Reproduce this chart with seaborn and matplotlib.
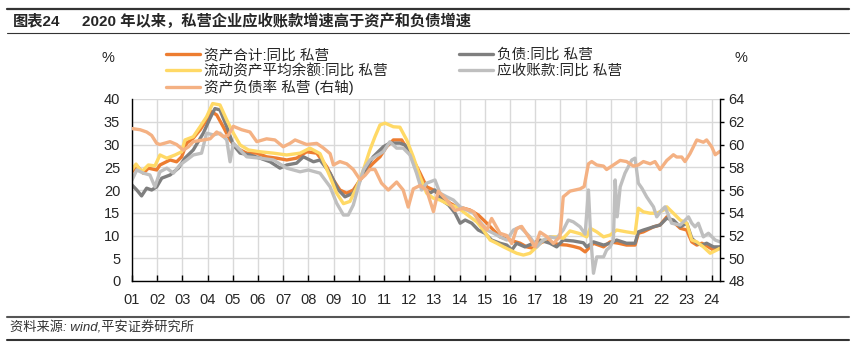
import matplotlib.pyplot as plt
import seaborn as sns

# values (x = year as decimal, monthly-ish points)
x_labels = ['%02d' % i for i in range(1, 25)]

assets_t = [2001.0, 2001.19, 2001.45, 2001.65, 2001.98, 2002.11, 2002.51, 2002.77, 2002.97, 2003.17, 2003.43, 2003.7,
            2003.96, 2004.16, 2004.36, 2004.62, 2004.89, 2005.15, 2005.55, 2005.95, 2006.34, 2006.74, 2007.14, 2007.53,
            2007.93, 2008.33, 2008.73, 2008.99, 2009.25, 2009.52, 2009.78, 2010.05, 2010.31, 2010.57, 2010.84, 2011.1,
            2011.37, 2011.7, 2011.9, 2012.16, 2012.43, 2012.69, 2012.96, 2013.22, 2013.62, 2013.88, 2014.15, 2014.41,
            2014.74, 2015.08, 2015.34, 2015.6, 2016.0, 2016.4, 2016.66, 2016.92, 2017.19, 2017.46, 2017.72, 2017.98,
            2018.25, 2018.51, 2018.78, 2018.98, 2019.31, 2019.71, 2019.97, 2020.3, 2020.62, 2020.96, 2021.09, 2021.29,
            2021.69, 2021.95, 2022.22, 2022.48, 2022.75, 2023.01, 2023.21, 2023.41, 2023.61, 2023.87, 2024.07, 2024.33]
assets_v = [24.0, 25.3, 23.7, 24.8, 24.4, 25.5, 26.6, 26.2, 27.3, 30.3, 31.4, 33.2,
            35.4, 37.2, 36.5, 33.9, 31.0, 29.2, 28.1, 28.1, 27.3, 27.0, 26.6, 27.0,
            28.4, 28.1, 25.1, 22.2, 20.0, 19.3, 20.0, 22.2, 24.4, 25.9, 27.3, 29.5,
            31.0, 31.0, 29.2, 26.6, 23.7, 20.7, 20.0, 18.9, 17.1, 16.3, 16.0, 15.6,
            14.5, 12.7, 11.2, 9.7, 9.0, 8.3, 7.5, 7.2, 8.3, 9.0, 8.3, 8.0,
            7.9, 7.6, 7.2, 6.4, 8.3, 7.5, 8.6, 8.3, 7.9, 7.9, 10.5, 10.8,
            11.9, 12.3, 14.1, 13.0, 11.6, 11.2, 8.6, 7.9, 8.3, 7.5, 6.8, 7.2]

liab_t = [2001.0, 2001.19, 2001.38, 2001.58, 2001.78, 2001.98, 2002.18, 2002.51, 2002.84, 2003.1, 2003.43, 2003.83,
          2004.1, 2004.29, 2004.49, 2004.76, 2005.02, 2005.29, 2005.68, 2006.08, 2006.48, 2006.87, 2007.14, 2007.53,
          2007.8, 2008.2, 2008.46, 2008.86, 2009.19, 2009.45, 2009.78, 2010.05, 2010.31, 2010.57, 2010.97, 2011.23,
          2011.63, 2011.83, 2012.03, 2012.29, 2012.56, 2012.82, 2013.02, 2013.29, 2013.56, 2013.82, 2014.02, 2014.22,
          2014.48, 2014.74, 2015.0, 2015.27, 2015.6, 2015.87, 2016.07, 2016.26, 2016.59, 2016.92, 2017.19, 2017.58,
          2017.85, 2018.11, 2018.51, 2018.91, 2019.04, 2019.31, 2019.71, 2019.97, 2020.23, 2020.62, 2020.96, 2021.09,
          2021.29, 2021.69, 2021.95, 2022.22, 2022.48, 2022.75, 2023.01, 2023.21, 2023.41, 2023.61, 2023.8, 2024.07,
          2024.33]
liab_v = [21.1, 20.0, 18.7, 20.4, 20.0, 20.7, 22.6, 23.3, 24.8, 27.0, 28.8, 32.5,
          35.8, 37.9, 37.6, 33.9, 29.9, 28.1, 27.7, 27.0, 26.2, 24.8, 25.5, 25.9,
          27.3, 26.2, 26.6, 23.7, 20.0, 18.5, 19.3, 22.2, 25.1, 27.3, 29.5, 30.3,
          30.3, 29.9, 28.1, 24.4, 20.7, 19.3, 20.0, 17.8, 16.7, 14.9, 12.7, 13.4,
          12.7, 11.2, 10.5, 9.0, 8.3, 7.9, 6.8, 8.3, 7.5, 8.3, 9.0, 8.3,
          7.5, 9.0, 8.8, 8.4, 7.5, 8.6, 7.9, 8.3, 9.0, 8.3, 8.3, 10.8,
          11.2, 11.9, 12.3, 13.8, 13.4, 11.9, 12.7, 9.4, 8.3, 7.9, 8.3, 7.5,
          7.5]

curr_t = [2001.0, 2001.16, 2001.38, 2001.65, 2001.91, 2002.11, 2002.38, 2002.71, 2002.97, 2003.1, 2003.43, 2003.7,
          2003.96, 2004.2, 2004.49, 2004.76, 2005.02, 2005.29, 2005.62, 2006.08, 2006.61, 2007.14, 2007.67, 2008.06,
          2008.46, 2008.86, 2009.12, 2009.39, 2009.65, 2009.92, 2010.18, 2010.44, 2010.64, 2010.84, 2011.04, 2011.37,
          2011.63, 2011.9, 2012.16, 2012.43, 2012.69, 2012.96, 2013.22, 2013.62, 2013.88, 2014.15, 2014.41, 2014.68,
          2014.94, 2015.21, 2015.47, 2015.74, 2016.0, 2016.26, 2016.53, 2016.79, 2017.06, 2017.32, 2017.58, 2017.85,
          2018.11, 2018.38, 2018.78, 2019.04, 2019.18, 2019.44, 2019.71, 2019.97, 2020.23, 2020.62, 2020.96, 2021.09,
          2021.29, 2021.56, 2021.82, 2022.09, 2022.22, 2022.48, 2022.75, 2023.01, 2023.21, 2023.41, 2023.67, 2023.94,
          2024.2, 2024.33]
curr_v = [24.5, 25.7, 24.0, 25.5, 25.3, 27.7, 27.0, 27.7, 28.4, 31.0, 31.7, 33.9,
          36.1, 39.0, 38.7, 35.4, 32.5, 29.9, 28.8, 28.4, 28.1, 27.7, 28.1, 29.2,
          28.0, 22.9, 19.3, 17.0, 17.5, 20.7, 24.4, 28.8, 31.7, 34.3, 34.7, 33.9,
          33.8, 31.0, 27.3, 22.9, 19.3, 18.2, 17.8, 16.7, 16.3, 15.2, 14.1, 13.0,
          11.2, 9.0, 8.3, 7.5, 6.8, 6.1, 5.7, 6.1, 7.5, 9.0, 9.7, 9.7,
          9.4, 11.0, 10.4, 9.7, 11.6, 10.8, 9.7, 10.1, 11.2, 10.8, 10.5, 16.0,
          15.2, 14.9, 14.9, 15.6, 16.3, 14.9, 13.4, 12.7, 9.0, 8.6, 7.5, 6.1,
          6.8, 7.2]

recv_t = [2001.0, 2001.19, 2001.45, 2001.71, 2001.91, 2002.11, 2002.38, 2002.64, 2002.9, 2003.17, 2003.43, 2003.76,
          2003.96, 2004.23, 2004.49, 2004.76, 2004.89, 2005.02, 2005.29, 2005.55, 2006.08, 2006.61, 2007.14, 2007.67,
          2008.0, 2008.46, 2008.86, 2009.12, 2009.39, 2009.58, 2009.78, 2009.98, 2010.18, 2010.44, 2010.64, 2010.97,
          2011.23, 2011.5, 2011.76, 2012.03, 2012.29, 2012.49, 2012.69, 2013.02, 2013.22, 2013.49, 2013.75, 2014.02,
          2014.28, 2014.55, 2014.81, 2015.08, 2015.34, 2015.6, 2015.87, 2016.13, 2016.4, 2016.79, 2017.06, 2017.32,
          2017.58, 2017.85, 2018.11, 2018.31, 2018.51, 2018.78, 2018.98, 2019.11, 2019.2, 2019.31, 2019.44, 2019.71,
          2019.83, 2019.97, 2020.1, 2020.17, 2020.25, 2020.37, 2020.56, 2020.83, 2020.96, 2021.09, 2021.23, 2021.42,
          2021.69, 2021.82, 2022.02, 2022.15, 2022.41, 2022.75, 2023.08, 2023.21, 2023.34, 2023.47, 2023.67, 2023.87,
          2024.14, 2024.33]
recv_v = [22.2, 24.4, 23.7, 23.3, 20.7, 24.0, 24.8, 23.7, 25.5, 26.6, 27.7, 28.1,
          32.5, 32.1, 32.5, 31.0, 26.2, 30.3, 28.8, 27.3, 27.0, 26.6, 24.8, 24.0,
          24.4, 23.7, 20.7, 17.1, 14.5, 14.5, 16.7, 20.7, 24.4, 26.6, 27.3, 28.4,
          30.6, 29.2, 29.2, 27.7, 23.7, 20.0, 21.5, 22.2, 19.3, 18.5, 17.8, 16.3,
          15.6, 14.9, 13.0, 11.2, 10.5, 9.7, 9.0, 11.2, 11.9, 9.7, 7.5, 9.0,
          9.7, 9.4, 11.2, 13.4, 13.0, 11.9, 10.3, 20.0, 9.7, 1.7, 5.3, 5.3,
          6.8, 7.5, 9.0, 22.2, 14.1, 20.7, 23.7, 26.6, 27.0, 21.5, 20.4, 18.5,
          16.3, 14.1, 15.6, 16.3, 12.7, 12.3, 14.1, 12.7, 11.9, 12.7, 9.7, 10.5,
          9.0, 8.6]

ratio_t = [2001.0, 2001.32, 2001.58, 2001.78, 2001.98, 2002.11, 2002.51, 2002.77, 2003.04, 2003.24, 2003.43, 2003.83,
           2004.1, 2004.36, 2004.62, 2004.82, 2005.02, 2005.35, 2005.68, 2005.95, 2006.34, 2006.67, 2007.0, 2007.27,
           2007.47, 2007.93, 2008.33, 2008.59, 2008.86, 2008.99, 2009.25, 2009.52, 2009.78, 2010.05, 2010.25, 2010.44,
           2010.64, 2010.9, 2011.17, 2011.5, 2011.76, 2011.96, 2012.16, 2012.43, 2012.69, 2012.96, 2013.15, 2013.49,
           2013.82, 2014.15, 2014.55, 2014.81, 2015.08, 2015.27, 2015.6, 2015.87, 2016.07, 2016.26, 2016.46, 2016.73,
           2016.99, 2017.19, 2017.46, 2017.72, 2017.98, 2018.11, 2018.38, 2018.58, 2018.78, 2018.94, 2019.11, 2019.24,
           2019.44, 2019.71, 2019.83, 2020.1, 2020.37, 2020.62, 2020.9, 2021.09, 2021.29, 2021.56, 2021.75, 2021.95,
           2022.22, 2022.48, 2022.61, 2022.81, 2022.94, 2023.14, 2023.41, 2023.67, 2023.8, 2024.0, 2024.14, 2024.33]
ratio_v = [61.4, 61.3, 61.1, 60.8, 60.1, 60.0, 60.25, 60.0, 59.5, 59.8, 60.25, 60.4,
           60.5, 61.1, 60.7, 60.8, 61.6, 61.3, 61.1, 60.25, 60.5, 60.4, 59.8, 60.1,
           60.4, 60.0, 60.1, 59.7, 59.2, 58.2, 58.5, 58.3, 57.8, 56.9, 57.3, 57.8,
           57.8, 56.6, 56.0, 56.7, 56.0, 54.5, 56.1, 56.4, 56.0, 54.1, 55.9, 55.1,
           54.2, 54.4, 54.1, 53.1, 52.5, 53.5, 52.2, 52.0, 51.3, 52.6, 52.8, 51.9,
           51.0, 52.3, 51.9, 51.3, 51.9, 55.4, 55.9, 56.0, 56.1, 56.3, 58.3, 58.5,
           58.2, 58.1, 57.8, 58.2, 58.6, 58.5, 58.1, 58.2, 58.5, 58.3, 58.5, 57.8,
           58.6, 59.1, 58.9, 58.9, 58.5, 59.2, 60.4, 60.2, 60.4, 59.8, 59.1, 59.4]

sns.set_style("white")
plt.rcParams['font.family'] = ['Liberation Sans', 'Noto Sans CJK SC']

W, H = 856, 354
fig = plt.figure(figsize=(W / 100, H / 100), dpi=100)
ax = fig.add_axes([132 / W, 1 - 281 / H, 588 / W, 182 / H])
ax2 = ax.twinx()

lw = 2.4
sns.lineplot(x=assets_t, y=assets_v, ax=ax, color='#ED7D31', linewidth=lw, label='资产合计:同比 私营')
sns.lineplot(x=liab_t, y=liab_v, ax=ax, color='#7F7F7F', linewidth=lw, label='负债:同比 私营')
sns.lineplot(x=curr_t, y=curr_v, ax=ax, color='#FFD966', linewidth=lw, label='流动资产平均余额:同比 私营')
sns.lineplot(x=recv_t, y=recv_v, ax=ax, color='#BFBFBF', linewidth=lw, label='应收账款:同比 私营')
sns.lineplot(x=ratio_t, y=ratio_v, ax=ax2, color='#F4B183', linewidth=lw, label='资产负债率 私营 (右轴)')

h1, l1 = ax.get_legend_handles_labels()
h2, l2 = ax2.get_legend_handles_labels()
ax.get_legend().remove()
ax2.get_legend().remove()
# column-major order so rows read: assets | liab, curr | recv, ratio
handles = [h1[0], h1[2], h2[0], h1[1], h1[3]]
labels = [l1[0], l1[2], l2[0], l1[1], l1[3]]
fig.legend(handles, labels, ncol=2, loc='upper left', bbox_to_anchor=(166 / W, 1 - 48 / H),
           frameon=False, fontsize=10.5, handlelength=2.3, handletextpad=0.3,
           columnspacing=4.9, labelspacing=0.12, borderpad=0, borderaxespad=0)

ax.set_xlim(2001, 2024.33)
ax.set_ylim(0, 40)
ax2.set_ylim(48, 64)
ax.set_xticks(range(2001, 2025))
ax.set_xticklabels(x_labels)
ax.set_yticks(range(0, 41, 5))
ax2.set_yticks(range(48, 65, 2))
ax.grid(True, color='#D9D9D9', linewidth=1)
ax.set_axisbelow(True)
ax.set_xlabel('')
ax.set_ylabel('')
ax2.set_ylabel('')

for a in (ax, ax2):
    a.spines['top'].set_visible(False)
    for s in ('left', 'right', 'bottom'):
        a.spines[s].set_color('black')
        a.spines[s].set_linewidth(1)
ax.spines['right'].set_visible(False)
ax2.spines['left'].set_visible(False)
ax2.spines['bottom'].set_visible(False)

ax.tick_params(axis='x', bottom=True, direction='in', length=4, width=1, color='black', labelsize=10.5, pad=9)
ax.tick_params(axis='y', left=False, labelsize=10.5, pad=5)
ax2.tick_params(axis='y', right=True, direction='out', length=3, width=1, color='black', labelsize=10.5, pad=3)

fig.text(108 / W, 1 - 58 / H, '%', fontsize=10.5, ha='center', va='center')
fig.text(741 / W, 1 - 58 / H, '%', fontsize=10.5, ha='center', va='center')

# header
fig.add_artist(plt.Line2D([0.008, 0.992], [1 - 9 / H] * 2, color='#333333', linewidth=1.6, transform=fig.transFigure))
fig.add_artist(plt.Line2D([0.008, 0.992], [1 - 33 / H] * 2, color='#333333', linewidth=0.8, transform=fig.transFigure))
fig.text(13 / W, 1 - 21 / H, '图表24', fontsize=11, fontweight='bold', va='center')
fig.text(82 / W, 1 - 21 / H, '2020 年以来，私营企业应收账款增速高于资产和负债增速', fontsize=11, fontweight='bold', va='center')

# footer
fig.add_artist(plt.Line2D([0.008, 0.992], [1 - 317 / H] * 2, color='#555555', linewidth=1.5, transform=fig.transFigure))
fig.add_artist(plt.Line2D([0.008, 0.992], [1 - 340 / H] * 2, color='#333333', linewidth=1.5, transform=fig.transFigure))
fig.text(10 / W, 1 - 328 / H, '资料来源: wind,平安证券研究所', fontsize=9.5, style='italic', va='center', color='#333333')

fig.savefig('out.png', dpi=100)
